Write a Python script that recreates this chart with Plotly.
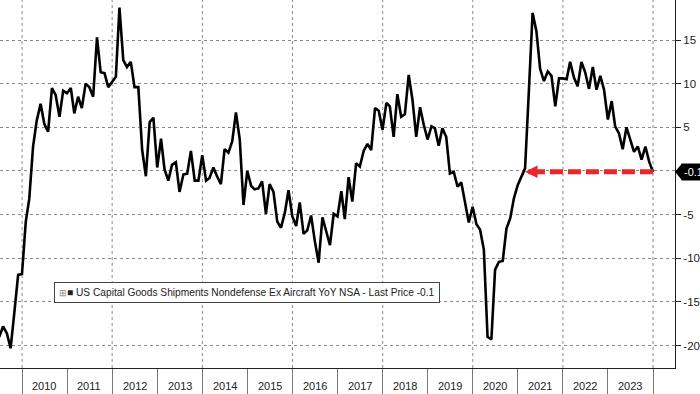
import pandas as pd
import plotly.graph_objects as go

# Monthly YoY % values, Jun 2009 .. Dec 2023
values = [
    -19.0, -17.8, -18.6, -20.3, -16.1, -11.9, -11.8, -5.8, -3.2, 2.8,
    5.8, 7.7, 5.4, 4.5, 9.5, 8.7, 6.2, 9.2, 8.9, 9.5,
    6.6, 8.5, 7.2, 10.0, 9.6, 8.5, 15.3, 11.3, 11.2, 9.6,
    10.2, 10.8, 18.7, 12.7, 11.9, 12.5, 9.6, 9.6, 2.4, -0.6,
    5.6, 6.1, 0.4, 3.7, 0.2, -1.1, 0.7, 1.0, -2.4, -0.4,
    -0.3, 2.3, -1.1, -1.1, 1.8, -1.1, -0.8, 0.4, -0.6, -1.5,
    2.5, 2.1, 3.4, 6.7, 3.6, -3.9, 0.0, -1.7, -2.1, -2.0,
    -1.2, -4.9, -1.5, -2.4, -5.8, -6.5, -4.8, -2.2, -5.2, -6.3,
    -3.6, -7.2, -6.8, -5.1, -8.0, -10.5, -5.3, -6.8, -8.5, -4.9,
    -5.2, -2.3, -5.5, -0.7, -3.5, 0.9, 0.5, 2.3, 3.1, 2.4,
    7.2, 6.9, 4.7, 7.8, 7.4, 3.9, 8.8, 6.2, 6.5, 11.0,
    8.1, 3.9, 7.3, 5.3, 3.6, 5.1, 4.9, 2.9, 4.9, 3.9,
    -0.3, -0.1, -1.8, -1.3, -3.7, -5.9, -4.1, -6.1, -6.7, -9.0,
    -19.0, -19.3, -11.3, -10.4, -10.3, -6.6, -5.4, -3.1, -1.6, -0.5,
    0.3, 9.2, 18.1, 16.0, 11.7, 10.3, 11.4, 10.9, 7.4, 10.6,
    10.6, 10.5, 12.5, 10.7, 9.7, 12.5, 11.3, 9.4, 11.9, 9.3,
    10.9, 9.3, 5.9, 8.0, 5.1, 4.3, 2.5, 5.0, 3.7, 2.2,
    2.8, 1.3, 2.8, 1.1, -0.1,
]
dates = [d.strftime("%Y-%m-%d") for d in
         (pd.date_range("2009-07-01", periods=len(values), freq="MS") - pd.Timedelta(days=1))]

year_labels = [str(y) for y in range(2010, 2024)]
grid_years = list(range(2010, 2025, 2))
y_ticks = [-20, -15, -10, -5, 0, 5, 10, 15]
y_ticktext = ["-20", "-15", "-10", "-5", "", "5", "10", "15"]
series_name = "US Capital Goods Shipments Nondefense Ex Aircraft YoY NSA - Last Price"
last = values[-1]
last_txt = f"{last:.1f}"
cross_idx = 140   # month where the series recrossed the current level

FONT = "Liberation Sans, Arial, sans-serif"
X_RANGE = ["2009-07-06", "2024-06-27"]
GRID = "#8a8a8a"

fig = go.Figure()
fig.add_trace(go.Scatter(x=dates, y=values, mode="lines",
                         line=dict(color="black", width=2.6),
                         name=series_name, showlegend=False))

fig.update_layout(
    width=700, height=394,
    margin=dict(l=0, r=25, t=0, b=26),
    paper_bgcolor="white", plot_bgcolor="white",
    showlegend=False,
    font=dict(family=FONT, size=11, color="#222"),
    xaxis=dict(
        type="date", range=X_RANGE,
        tickmode="linear", tick0="2010-01-01", dtick="M12",
        showticklabels=False,
        ticks="outside", ticklen=26, tickcolor="#777", tickwidth=1,
        showgrid=False, showline=True, linecolor="#222", linewidth=1,
        zeroline=False,
    ),
    yaxis=dict(
        side="right", range=[-22.56, 19.58],
        tickmode="array", tickvals=y_ticks, ticktext=y_ticktext,
        ticks="outside", ticklen=5, tickcolor="#222",
        tickfont=dict(family=FONT, size=11.5, color="#222"),
        showgrid=True, gridcolor=GRID, griddash="dot", gridwidth=1,
        showline=True, linecolor="#222", linewidth=1, zeroline=False,
    ),
)

# dotted vertical gridlines every two years
for gy in grid_years:
    fig.add_shape(type="line", xref="x", yref="paper",
                  x0=f"{gy}-01-01", x1=f"{gy}-01-01", y0=0, y1=1,
                  line=dict(color=GRID, width=1, dash="dot"), layer="below")

# year labels centred in each year
for yl in year_labels:
    fig.add_annotation(xref="x", yref="paper", x=f"{yl}-07-01", y=0, yshift=-18,
                       yanchor="middle", text=yl, showarrow=False,
                       font=dict(family=FONT, size=11, color="#222"))

# red dashed line from last value back to crossing month
fig.add_shape(type="line", xref="x", yref="y",
              x0=dates[-1], x1=dates[cross_idx + 2], y0=last, y1=last,
              line=dict(color="#e8262b", width=5, dash="13px,5px"))
fig.add_annotation(x=dates[cross_idx], y=last, xref="x", yref="y",
                   ax=13, ay=0, text="", showarrow=True,
                   arrowhead=2, arrowsize=0.5, arrowwidth=5, arrowcolor="#e8262b")

# legend-style box
fig.add_annotation(
    xref="paper", yref="paper", x=0.08, y=0.205, xanchor="left", yanchor="middle",
    text=f'<span style="color:#888;font-size:9px">⊞</span>■ {series_name} {last_txt}',
    showarrow=False, bgcolor="white", bordercolor="#444", borderwidth=1, borderpad=4,
    font=dict(family=FONT, size=10.2, color="#222"),
)

# last price tag on right axis
fig.add_shape(type="path", xref="paper", yref="y",
              path=f"M 1.0,{last} L {1 + 7/675},{last + 0.95} L {1 + 7/675},{last - 0.95} Z",
              fillcolor="black", line=dict(width=0))
fig.add_annotation(xref="paper", yref="y", x=1, y=last, xanchor="left", xshift=6,
                   text=last_txt, showarrow=False, bgcolor="black", borderpad=2,
                   font=dict(family=FONT, size=11, color="white"))

fig.write_html("out.html", config={"displayModeBar": False},
               post_script="document.body.style.margin='0';")
